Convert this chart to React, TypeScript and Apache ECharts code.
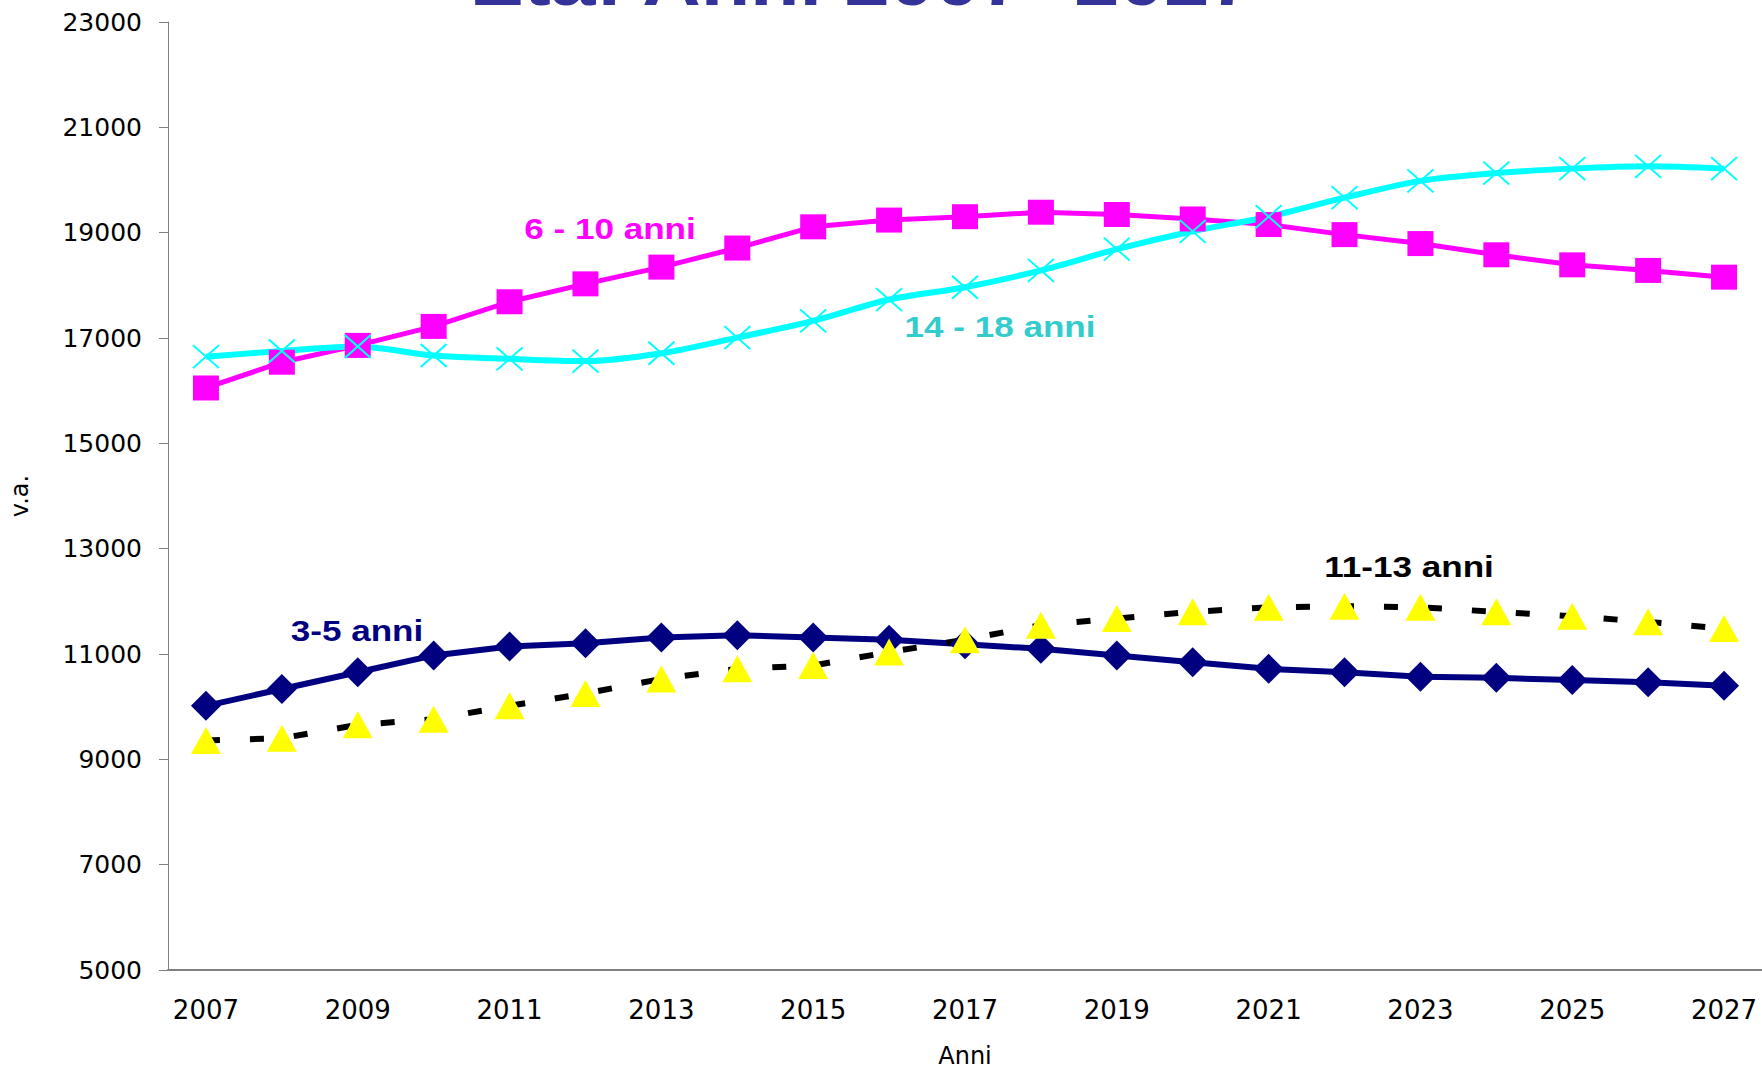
import React, { useEffect, useRef } from "react";
import * as echarts from "echarts";

const years = ["2007","2008","2009","2010","2011","2012","2013","2014","2015","2016","2017","2018","2019","2020","2021","2022","2023","2024","2025","2026","2027"];
const anni3_5 = [10016,10335,10654,10973,11143,11206,11313,11355,11313,11270,11185,11100,10973,10845,10718,10654,10569,10548,10505,10463,10399];
const anni6_10 = [16051,16540,16859,17220,17688,18028,18346,18708,19111,19239,19303,19388,19345,19260,19154,18963,18793,18580,18389,18283,18155];
const anni11_13 = [9358,9400,9655,9762,10016,10250,10527,10718,10782,11037,11270,11547,11674,11801,11886,11908,11886,11801,11716,11610,11483];
const anni14_18 = [16646,16753,16838,16668,16604,16561,16710,17008,17326,17730,17964,18283,18686,19026,19303,19664,19983,20131,20216,20259,20216];

const titleText = "Età: Anni 2007- 2027";
const seriesNames = ["3-5 anni", "6 - 10 anni", "11-13 anni", "14 - 18 anni"];

const AX = "DejaVu Sans, sans-serif";
const LB = "Liberation Sans, Arial, sans-serif";

export default function App() {
  const ref = useRef<HTMLDivElement>(null);
  useEffect(() => {
    if (!ref.current) return;
    const chart = echarts.init(ref.current, null, { renderer: "svg" });
    const label = (text: string, x: number, y: number, color: string) => ({
      type: "text",
      x,
      y,
      scaleX: 1.17,
      z: 100,
      style: { text, fill: color, font: `bold 30px ${LB}`, align: "center", verticalAlign: "middle" },
    });
    chart.setOption({
      animation: false,
      backgroundColor: "#ffffff",
      grid: { left: 168, top: 22, width: 1598, height: 953, containLabel: false },
      xAxis: {
        type: "category",
        data: years,
        boundaryGap: true,
        name: "Anni",
        nameLocation: "middle",
        nameGap: 74,
        nameTextStyle: { fontFamily: AX, fontSize: 24, color: "#000" },
        axisLine: { lineStyle: { color: "#808080", width: 2 } },
        axisTick: { interval: 0, length: 8, lineStyle: { color: "#808080", width: 1 } },
        axisLabel: { interval: 1, fontFamily: AX, fontSize: 26, color: "#000", margin: 27 },
        splitLine: { show: false },
      },
      yAxis: {
        type: "value",
        min: 5000,
        max: 23000,
        interval: 2000,
        name: "v.a.",
        nameLocation: "middle",
        nameGap: 136,
        nameRotate: 90,
        nameTextStyle: { fontFamily: AX, fontSize: 24, color: "#000" },
        axisLine: { show: true, lineStyle: { color: "#808080", width: 1 } },
        axisTick: { show: true, length: 9, lineStyle: { color: "#808080" } },
        axisLabel: { fontFamily: AX, fontSize: 25, color: "#000", margin: 26, formatter: (v: number) => String(v) },
        splitLine: { show: false },
      },
      series: [
        {
          name: seriesNames[0],
          type: "line",
          data: anni3_5,
          symbol: "diamond",
          symbolSize: [30, 30],
          lineStyle: { color: "#000080", width: 6 },
          itemStyle: { color: "#000080" },
        },
        {
          name: seriesNames[1],
          type: "line",
          data: anni6_10,
          symbol: "rect",
          symbolSize: [26, 25],
          lineStyle: { color: "#FF00FF", width: 5 },
          itemStyle: { color: "#FF00FF" },
        },
        {
          name: seriesNames[2],
          type: "line",
          data: anni11_13,
          symbol: "triangle",
          symbolSize: [30, 27],
          lineStyle: { color: "#000000", width: 6, type: [14, 30] },
          itemStyle: { color: "#FFFF00" },
        },
        {
          name: seriesNames[3],
          type: "line",
          data: anni14_18,
          smooth: 0.3,
          symbol: "path://M0,0L20,20M20,0L0,20",
          symbolSize: [26, 23],
          lineStyle: { color: "#00FFFF", width: 6 },
          itemStyle: { color: "#00FFFF", borderColor: "#00FFFF", borderWidth: 2 },
        },
      ],
      graphic: [
        {
          type: "text",
          x: 862,
          y: -20,
          scaleX: 1.157,
          z: 100,
          style: { text: titleText, fill: "#333399", font: `bold 70px ${LB}`, align: "center", verticalAlign: "middle" },
        },
        label(seriesNames[1], 610, 228, "#FF00FF"),
        label(seriesNames[3], 1000, 326, "#33CCCC"),
        label(seriesNames[0], 357, 630, "#000080"),
        label(seriesNames[2], 1409, 566, "#000000"),
      ],
    });
    return () => chart.dispose();
  }, []);
  return <div ref={ref} style={{ position: "absolute", left: 0, top: 0, width: 1762, height: 1073 }} />;
}
